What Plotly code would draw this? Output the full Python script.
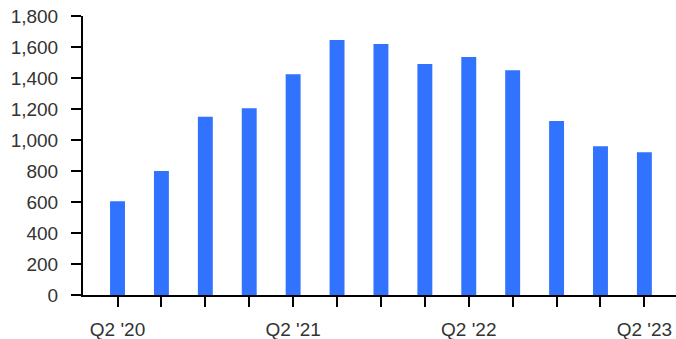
import plotly.graph_objects as go

# Quarterly series, Q2 2020 through Q2 2023
quarters = ["Q2 '20", "Q3 '20", "Q4 '20", "Q1 '21", "Q2 '21", "Q3 '21", "Q4 '21",
            "Q1 '22", "Q2 '22", "Q3 '22", "Q4 '22", "Q1 '23", "Q2 '23"]
values = [605, 800, 1150, 1205, 1425, 1645, 1620, 1490, 1535, 1450, 1122, 960, 921]
labelled = ["Q2 '20", "Q2 '21", "Q2 '22", "Q2 '23"]
y_ticks = [0, 200, 400, 600, 800, 1000, 1200, 1400, 1600, 1800]

font_family = "Liberation Sans, Arial, Helvetica, sans-serif"
text_color = "#333333"

fig = go.Figure(
    go.Bar(
        x=quarters,
        y=values,
        width=0.34,
        marker=dict(color="#3172FE", line=dict(width=0)),
        hoverinfo="x+y",
    )
)

fig.update_layout(
    width=676,
    height=339,
    margin=dict(l=83, r=0, t=16, b=44),
    paper_bgcolor="white",
    plot_bgcolor="white",
    showlegend=False,
    font=dict(family=font_family, size=19, color=text_color),
)

fig.update_xaxes(
    type="category",
    range=[-0.786, 12.72],
    tickmode="array",
    tickvals=quarters,
    ticktext=[q if q in labelled else "" for q in quarters],
    ticks="outside",
    ticklen=10,
    tickwidth=2,
    tickcolor="black",
    showline=True,
    linecolor="black",
    linewidth=2,
    showgrid=False,
    zeroline=False,
    ticklabelstandoff=6,
    tickfont=dict(size=19, color=text_color),
)

fig.update_yaxes(
    range=[0, 1800],
    tickmode="array",
    tickvals=y_ticks,
    ticktext=[f"{v:,}" for v in y_ticks],
    ticks="outside",
    ticklen=10,
    tickwidth=2,
    tickcolor="black",
    showline=True,
    linecolor="black",
    linewidth=2,
    showgrid=False,
    zeroline=False,
    ticklabelstandoff=9,
    tickfont=dict(size=19, color=text_color),
)

fig.write_html("out.html")
